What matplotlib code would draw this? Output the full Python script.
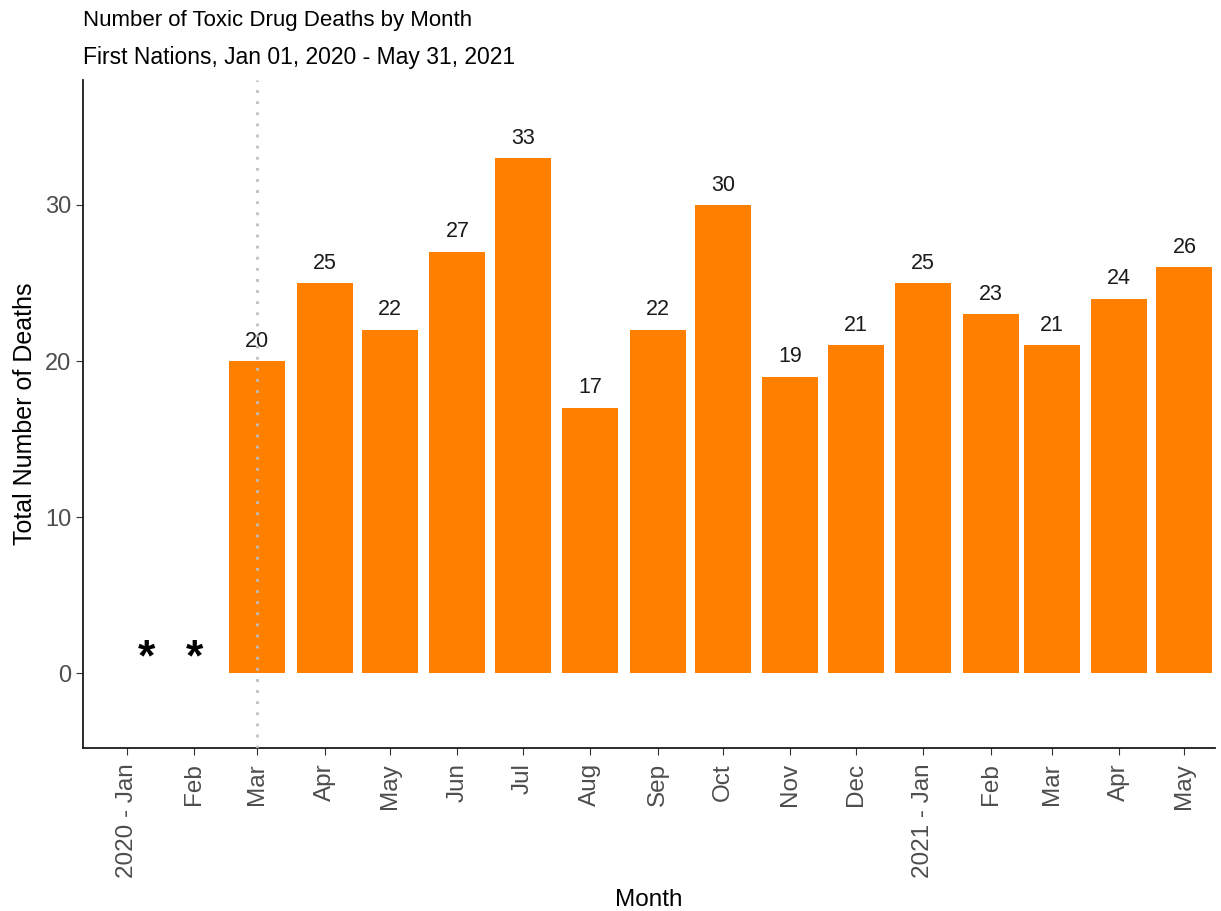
import matplotlib
matplotlib.use("Agg")
import matplotlib.pyplot as plt
import matplotlib.dates as mdates
import datetime as dt

plt.rcParams['font.family'] = ['Liberation Sans', 'DejaVu Sans']

# months shown on axis (first of month)
months = [dt.date(2020, m, 1) for m in range(1, 13)] + [dt.date(2021, m, 1) for m in range(1, 6)]
month_labels = ['2020 - Jan', 'Feb', 'Mar', 'Apr', 'May', 'Jun', 'Jul', 'Aug', 'Sep',
                'Oct', 'Nov', 'Dec', '2021 - Jan', 'Feb', 'Mar', 'Apr', 'May']

# bars (Jan/Feb 2020 suppressed)
bar_months = months[2:]
deaths = [20, 25, 22, 27, 33, 17, 22, 30, 19, 21, 25, 23, 21, 24, 26]

# suppressed months marked with asterisks
star_dates = [dt.date(2020, 1, 10), dt.date(2020, 2, 1)]
star_y = [0.9, 0.9]

fig = plt.figure(figsize=(12.21, 9.11), dpi=100)
ax = fig.add_axes([0.068, 0.179, 0.927, 0.733])

x = mdates.date2num(bar_months)
ax.bar(x, deaths, width=25.7, color='#FF7F00', align='center', zorder=2)
for xi, d in zip(x, deaths):
    ax.text(xi, d + 0.6, str(d), ha='center', va='bottom', fontsize=15.5, color='#1a1a1a')

for sd, sy in zip(star_dates, star_y):
    ax.text(mdates.date2num(sd), sy, '*', ha='center', va='center', fontsize=32,
            fontweight='bold', color='black')

ax.axvline(mdates.date2num(dt.date(2020, 3, 1)), color='#BEBEBE', linestyle=(0, (1, 3)),
           linewidth=2, zorder=3)

ax.set_xlim(mdates.date2num(dt.date(2019, 12, 12)), mdates.date2num(dt.date(2021, 5, 15)))
ax.set_ylim(-4.8, 38)
ax.set_xticks(mdates.date2num(months))
ax.set_xticklabels(month_labels, rotation=90, fontsize=17.5, color='#4D4D4D')
ax.set_yticks([0, 10, 20, 30])
ax.tick_params(axis='y', labelsize=17, labelcolor='#4D4D4D', length=5, color='#333333')
ax.tick_params(axis='x', length=5, color='#333333', pad=6)

for s in ['top', 'right']:
    ax.spines[s].set_visible(False)
for s in ['left', 'bottom']:
    ax.spines[s].set_color('#1a1a1a')
    ax.spines[s].set_linewidth(1.3)

ax.set_ylabel('Total Number of Deaths', fontsize=18, color='black', labelpad=6)
ax.set_xlabel('Month', fontsize=17.5, color='black', labelpad=8)

fig.text(0.068, 0.977, 'Number of Toxic Drug Deaths by Month', fontsize=16, va='center', ha='left')
fig.text(0.068, 0.937, 'First Nations, Jan 01, 2020 - May 31, 2021', fontsize=16.5, va='center', ha='left')

fig.savefig('out.png', dpi=100)
